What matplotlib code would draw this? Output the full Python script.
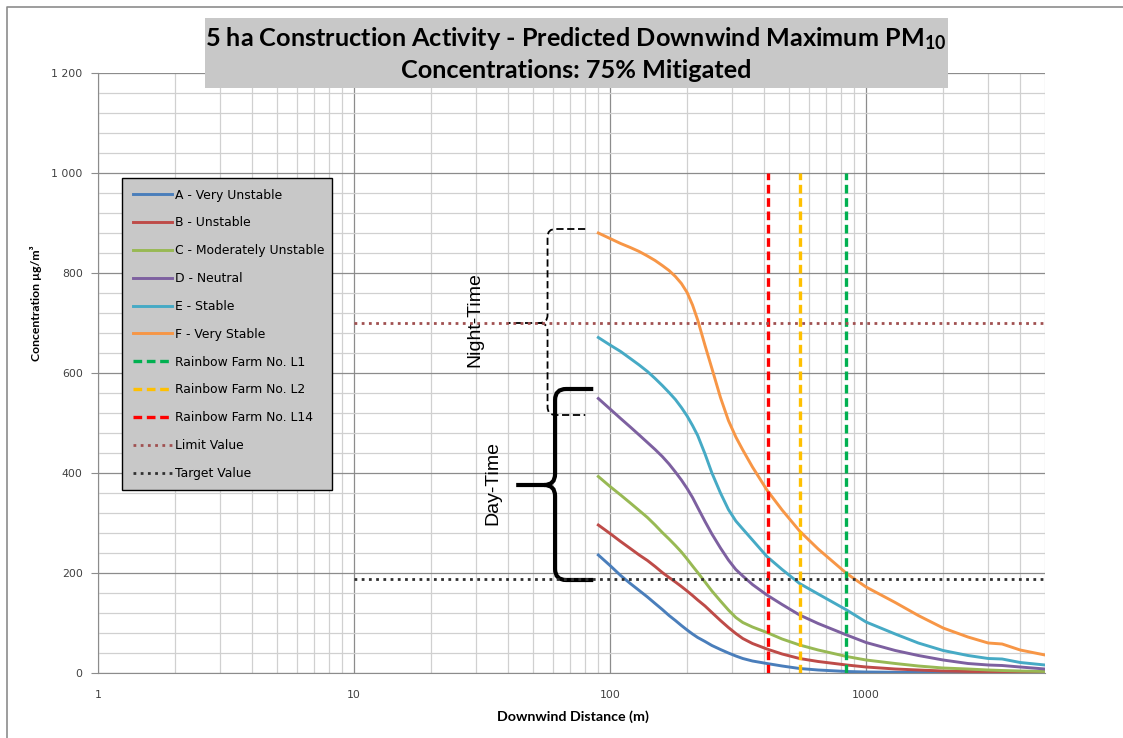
import numpy as np
import matplotlib
matplotlib.use("Agg")
from matplotlib import pyplot as plt
from matplotlib.path import Path
from matplotlib.patches import PathPatch, Rectangle
from matplotlib.lines import Line2D
from matplotlib.ticker import FuncFormatter, MultipleLocator, LogLocator


plt.rcParams["mathtext.default"] = "regular"

# downwind distance (m) at which each curve was read
distance = [90, 100, 110, 120, 130, 140, 150, 160, 170, 180, 190, 200, 210, 220,
            235, 250, 270, 290, 310, 330, 360, 410, 470, 550, 650, 840,
            1000, 1300, 1600, 2000, 2500, 3000, 3400, 4000, 5000]

# predicted maximum PM10 (ug/m3) per stability class
class_a = [236, 215, 195, 179, 165, 152, 139, 127, 115, 105, 95, 86, 78, 71,
           63, 55, 47, 40, 34, 29, 24, 19, 14, 9, 6, 3,
           2, 1.5, 1, 1, 0.5, 0.5, 0.5, 0.5, 0.5]
class_b = [296, 279, 263, 249, 236, 225, 213, 201, 191, 182, 173, 164, 155, 146,
           134, 121, 105, 91, 79, 69, 59, 48, 38, 29, 23, 16,
           12, 8, 6, 4, 3, 2.5, 2, 1.5, 1]
class_c = [393, 373, 356, 340, 325, 311, 296, 281, 268, 255, 242, 228, 214, 201,
           182, 164, 144, 126, 111, 101, 92, 81, 68, 56, 46, 33,
           26, 19, 14, 10, 8, 6, 5, 4, 3]
class_d = [549, 528, 509, 492, 476, 461, 447, 433, 418, 402, 386, 369, 351, 331,
           303, 278, 250, 226, 207, 194, 177, 156, 137, 116, 99, 76,
           61, 45, 35, 26, 19, 16, 15, 12, 8]
class_e = [671, 656, 643, 629, 616, 603, 589, 575, 561, 547, 531, 514, 495, 475,
           438, 400, 360, 327, 304, 288, 266, 233, 207, 179, 158, 126,
           102, 78, 60, 45, 35, 29, 28, 21, 16]
class_f = [880, 869, 859, 851, 843, 834, 825, 815, 805, 793, 779, 761, 736, 706,
           655, 609, 551, 505, 472, 446, 412, 366, 326, 284, 248, 199,
           172, 141, 115, 90, 72, 60, 58, 46, 36]

curve_labels = ["A - Very Unstable", "B - Unstable", "C - Moderately Unstable",
                "D - Neutral", "E - Stable", "F - Very Stable"]
curve_colors = ["#4a7ebb", "#be4b48", "#98b954", "#7d60a0", "#46aac5", "#f79646"]

# receptor distances (m)
receptor_labels = ["Rainbow Farm No. L1", "Rainbow Farm No. L2", "Rainbow Farm No. L14"]
receptor_distance = [835, 550, 415]
receptor_colors = ["#00b050", "#ffc000", "#ff0000"]
receptor_top = 1000

limit_value = 700
target_value = 187.5
reference_start = 10

# annotation braces: (arm x, spine x, tip x, top y, bottom y, tip y)
night_brace = (80, 57, 40, 888, 516, 700)
day_brace = (86, 61, 43, 568, 186, 376)


def draw_brace(ax, spec, radius_px, **kw):
    x_arm, x_spine, x_tip, y_top, y_bot, y_tip = spec
    to_axes = ax.transData + ax.transAxes.inverted()
    (xa, yt), (xs, yb), (xt, ym) = to_axes.transform(
        [(x_arm, y_top), (x_spine, y_bot), (x_tip, y_tip)])
    bbox = ax.get_window_extent()
    rx = radius_px / bbox.width
    ry = radius_px / bbox.height
    verts = [(xa, yt), (xs + rx, yt), (xs, yt), (xs, yt - ry),
             (xs, ym + ry), (xs, ym), (xs - rx, ym), (xt, ym),
             (xs - rx, ym), (xs, ym), (xs, ym - ry),
             (xs, yb + ry), (xs, yb), (xs + rx, yb), (xa, yb)]
    codes = [Path.MOVETO, Path.LINETO, Path.CURVE3, Path.CURVE3,
             Path.LINETO, Path.CURVE3, Path.CURVE3, Path.LINETO,
             Path.MOVETO, Path.CURVE3, Path.CURVE3,
             Path.LINETO, Path.CURVE3, Path.CURVE3, Path.LINETO]
    ax.add_patch(PathPatch(Path(verts, codes), transform=ax.transAxes,
                           facecolor="none", clip_on=False, **kw))


fig = plt.figure(figsize=(11.23, 7.38), dpi=100)
ax = fig.add_axes([98 / 1123, 65 / 738, 947 / 1123, 600 / 738])

ax.set_xscale("log")
ax.set_xlim(1, 5000)
ax.set_ylim(0, 1200)

ax.xaxis.set_major_locator(LogLocator(base=10, numticks=10))
ax.xaxis.set_minor_locator(LogLocator(base=10, subs=np.arange(2, 10), numticks=20))
ax.xaxis.set_major_formatter(FuncFormatter(lambda v, p: f"{v:.0f}"))
ax.yaxis.set_major_locator(MultipleLocator(200))
ax.yaxis.set_minor_locator(MultipleLocator(40))
ax.yaxis.set_major_formatter(FuncFormatter(lambda v, p: f"{v:,.0f}".replace(",", " ")))

ax.grid(which="major", color="#8c8c8c", linewidth=0.9)
ax.grid(which="minor", color="#d0d0d0", linewidth=0.9)
ax.set_axisbelow(True)
for side in ["top", "right"]:
    ax.spines[side].set_visible(False)
ax.spines["left"].set_color("#8c8c8c")
ax.spines["bottom"].set_color("#8c8c8c")
ax.tick_params(axis="y", which="major", length=5, color="#8c8c8c", labelsize=7.8,
               labelcolor="#404040", pad=6)
ax.tick_params(axis="y", which="minor", length=0)
ax.tick_params(axis="x", which="both", length=0, labelsize=7.8, labelcolor="#404040", pad=12)

handles = []
for values, label, color in zip([class_a, class_b, class_c, class_d, class_e, class_f],
                                curve_labels, curve_colors):
    line, = ax.plot(distance, values, color=color, linewidth=2.1, label=label,
                    solid_joinstyle="round")
    handles.append(line)

for xr, label, color in zip(receptor_distance, receptor_labels, receptor_colors):
    line, = ax.plot([xr, xr], [0, receptor_top], color=color, linewidth=2.4,
                    linestyle=(0, (2.6, 1.4)), label=label)
    handles.append(line)

line, = ax.plot([reference_start, 5000], [limit_value, limit_value], color="#a05050",
                linewidth=2.0, linestyle=(0, (1, 1.6)), label="Limit Value")
handles.append(line)
line, = ax.plot([reference_start, 5000], [target_value, target_value], color="#303030",
                linewidth=2.0, linestyle=(0, (1, 1.6)), label="Target Value")
handles.append(line)

draw_brace(ax, night_brace, 8, edgecolor="black", linewidth=1.3, linestyle=(0, (4, 2)))
draw_brace(ax, day_brace, 11, edgecolor="black", linewidth=3.0)
ax.text(29.7, 706, "Night-Time", rotation=90, ha="center", va="center",
        fontsize=14, family="Liberation Sans")
ax.text(34.9, 380, "Day-Time", rotation=90, ha="center", va="center",
        fontsize=14, family="Liberation Sans")

leg = ax.legend(handles=handles, loc="upper left",
                bbox_to_anchor=(122 / 1123, 1 - 488 / 738, 210 / 1123, 310 / 738),
                bbox_transform=fig.transFigure, mode="expand", fontsize=8.9,
                labelspacing=1.2, handlelength=3.2, handletextpad=0.25,
                borderpad=0.85, borderaxespad=0, fancybox=False, framealpha=1,
                edgecolor="black", facecolor="#c8c8c8")
leg.get_frame().set_linewidth(1.0)

fig.text(36 / 1123, 1 - 303 / 738, "Concentration µg/m³", rotation=90, ha="center",
         va="center", fontsize=8.8, fontweight="bold", family="Lato")
fig.text(573 / 1123, 1 - 717 / 738, "Downwind Distance (m)", ha="center", va="center",
         fontsize=10.3, fontweight="bold", family="Lato")

# title box
fig.patches.append(Rectangle((205 / 1123, 1 - 88 / 738), 743 / 1123, 70 / 738,
                             transform=fig.transFigure, facecolor="#c8c8c8",
                             edgecolor="none", zorder=5))
fig.text(576 / 1123, 1 - 39 / 738,
         "5 ha Construction Activity - Predicted Downwind Maximum PM$_{10}$",
         ha="center", va="center", fontsize=18.2, fontweight="bold", family="Lato", zorder=6)
fig.text(576 / 1123, 1 - 70 / 738, "Concentrations: 75% Mitigated",
         ha="center", va="center", fontsize=18.2, fontweight="bold", family="Lato", zorder=6)

# chart border
fig.add_artist(Line2D([7 / 1123, 7 / 1123, 1], [0, 1 - 7 / 738, 1 - 7 / 738],
                      transform=fig.transFigure, color="#8c8c8c", linewidth=1.2))

fig.savefig("out.png", dpi=100)
